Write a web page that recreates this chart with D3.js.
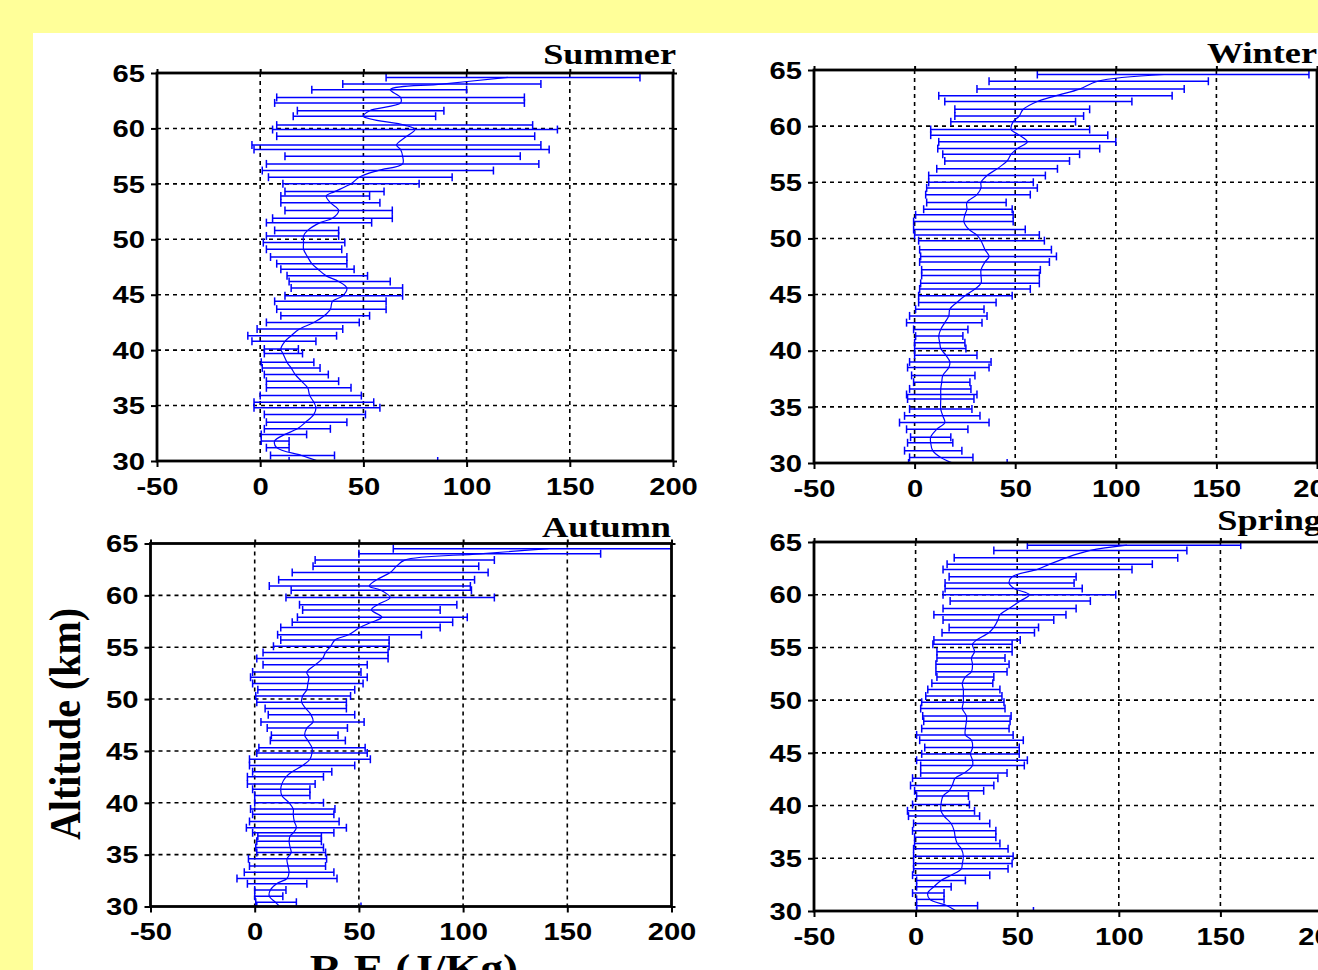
<!DOCTYPE html>
<html>
<head>
<meta charset="utf-8">
<script src="https://cdn.jsdelivr.net/npm/d3@7"></script>
<style>
  html, body { margin: 0; padding: 0; background: #ffff99; }
  svg { display: block; }
</style>
</head>
<body>
<svg id="chart" width="1318" height="970"></svg>
<script>
// rows: [altitude km, mean, mean - sd, mean + sd]  (R.E in J/Kg)
const summer = [
  [64.6, 120, 61, 184], [64.0, 88, 40, 136], [63.5, 63, 25, 100], [62.8, 68, 8, 128],
  [62.3, 68, 7, 128], [61.6, 53, 18, 89], [61.1, 50, 16, 85], [60.3, 70, 8, 132],
  [59.9, 75, 6, 144], [59.3, 71, 8, 133], [58.5, 66, -4, 136], [58.1, 68, -3, 140],
  [57.5, 69, 12, 126], [56.8, 69, 3, 135], [56.2, 57, 1, 113], [55.6, 48, 4, 93],
  [55.0, 44, 11, 77], [54.3, 36, 12, 60], [53.9, 32, 10, 53], [53.3, 34, 10, 58],
  [52.6, 38, 12, 64], [51.9, 35, 6, 64], [51.5, 29, 3, 54], [50.8, 23, 7, 38],
  [50.3, 21, 3, 38], [49.7, 21, 1.5, 41], [49.1, 21, 3, 39.5], [48.4, 23, 5, 42],
  [47.8, 25, 8, 42], [47.3, 28, 10, 45.5], [46.7, 32, 13, 52], [46.2, 38, 14, 63],
  [45.6, 42, 15, 69], [44.9, 40, 12, 69], [44.4, 35, 7, 61], [43.7, 34, 8, 61],
  [43.1, 31, 10, 53], [42.5, 26, 3, 48], [41.9, 19, -1.5, 40], [41.3, 15, -6, 37],
  [40.8, 12, -4, 27], [40.1, 10, 2, 18.5], [39.7, 11, 2, 20.5], [38.9, 13, 0.5, 26],
  [38.4, 15, 1, 29], [37.8, 17, 2, 33], [37.2, 20, 3, 38], [36.6, 23, 3, 44],
  [35.9, 24, 0, 49], [35.3, 26, -3, 55], [34.8, 27, -3, 58], [34.2, 26, 2, 51],
  [33.5, 22, 3, 42], [32.9, 18, 2, 34], [32.4, 12, 0.5, 22.5], [31.8, 7, 0.5, 14],
  [31.2, 8, 3, 14], [30.5, 20, 5, 36], [30.0, 28, 14, 86]
]

const winter = [
  [64.6, 124, 61, 196], [64.0, 91, 37, 146], [63.3, 82, 31, 134], [62.7, 70, 12, 128],
  [62.2, 61, 15, 108], [61.5, 54, 20, 87], [60.9, 52, 20, 84], [60.4, 49, 18, 80],
  [59.7, 48, 8, 87], [59.2, 52, 8, 96], [58.6, 56, 12, 100], [58.0, 51, 11.5, 92],
  [57.5, 48, 14, 82], [56.9, 46, 15, 77], [56.2, 41, 11, 71], [55.6, 36, 7, 65],
  [55.0, 33, 7, 59], [54.5, 33, 6, 61], [53.9, 31, 5.5, 57.5], [53.2, 26, 6, 45.5],
  [52.6, 26, 4.5, 48.5], [52.1, 25, 0.5, 49], [51.5, 24.5, -0.5, 49], [50.8, 27, -0.5, 55],
  [50.3, 31, 0, 62], [49.8, 33, 2, 64.5], [49.0, 35, 2.5, 68], [48.4, 37, 3, 70.5],
  [47.9, 35, 2.5, 67], [47.2, 33, 3.5, 62.5], [46.7, 33, 3.5, 62], [46.0, 33, 3, 62],
  [45.5, 30, 2.5, 57.5], [44.9, 25, 2, 48.5], [44.3, 21, 2, 40.5], [43.7, 17.5, 0.5, 34.5],
  [43.1, 17, -2.5, 36], [42.5, 15, -4, 33.5], [41.9, 13, -0.5, 26.5], [41.3, 12, 0.5, 24],
  [40.7, 12.5, 0, 25], [40.2, 13, 0, 25.5], [39.6, 15.5, 0, 31], [39.0, 17.5, -2.5, 38],
  [38.5, 17, -3.5, 37], [37.8, 14, -1.5, 30], [37.2, 13.5, -0.5, 27.5], [36.6, 13, -2.5, 28],
  [36.1, 13, -4, 31], [35.7, 13, -3.5, 29.5], [34.8, 13, -2.5, 28.5], [34.2, 14, -5, 32.5],
  [33.6, 15, -7.5, 37], [33.0, 11, -4, 26.5], [32.3, 8, -2, 18], [31.8, 8, -3.5, 19],
  [31.1, 9, -5, 23.5], [30.5, 13, -2.5, 29], [30.0, 19, -3, 46]
]

const autumn = [
  [64.5, 141, 66.5, 215], [64.0, 108, 50, 166], [63.4, 72, 29, 115], [62.8, 68, 28, 107.5],
  [62.2, 65, 18, 112], [61.5, 58.5, 11.5, 105.5], [60.9, 55, 7, 103.5], [60.5, 60.5, 17.5, 104],
  [59.8, 65, 15, 115], [59.1, 59, 21.5, 97], [58.6, 56, 23, 89], [57.9, 61, 20.5, 102],
  [57.4, 56, 18, 95], [56.9, 50.5, 12.5, 89], [56.2, 45, 11, 80], [55.7, 38.5, 12.5, 64.5],
  [55.1, 36.5, 9, 64.5], [54.5, 34, 4, 64], [53.9, 32.5, 1, 64], [53.3, 29, 4, 54],
  [52.6, 25, -1, 51], [52.1, 26, -2, 54], [51.5, 25.5, -1, 52], [50.9, 25, 1.5, 48],
  [50.3, 23, 0.5, 46], [49.7, 22.5, 1, 44], [49.1, 24.5, 5, 44], [48.5, 27, 6.5, 48],
  [47.8, 28, 3, 52.5], [47.2, 25, 6, 44.5], [46.5, 24, 8, 40], [46.0, 25.5, 7.5, 43.5],
  [45.3, 27.5, 2, 53], [44.8, 27.5, 1, 54], [44.2, 26.5, -2.5, 55.5], [43.6, 23, -2.5, 48],
  [43.0, 18, -1, 37], [42.5, 15, -3.5, 33], [41.8, 13, -3.5, 29], [41.3, 12.5, -1, 26.5],
  [40.7, 13, 0, 26.5], [40.0, 16.5, 0, 33], [39.4, 18.5, -2, 38.5], [38.9, 18.5, -1, 38],
  [38.2, 19, -2.5, 40.5], [37.6, 20, -4, 44], [37.1, 18.5, -1, 38], [36.8, 17, 1.5, 32],
  [36.3, 16.5, 1, 32], [35.7, 17, 0.5, 33], [35.2, 17.5, 1, 34], [34.6, 15.5, -3, 34.5],
  [33.9, 16, -2.5, 34], [33.3, 16.5, -5, 38], [32.7, 15.5, -8.5, 39.5], [32.2, 10.5, -3.5, 25],
  [31.6, 7.5, 0, 15], [31.0, 7, 0, 13.5], [30.4, 10, 0.5, 20], [30.0, 12, 1, 51]
]

const spring = [
  [64.7, 104, 55, 160], [64.2, 86, 38.5, 133.5], [63.5, 74, 19, 129], [62.9, 66, 15.5, 116.5],
  [62.4, 60, 13.5, 106.5], [61.7, 47.5, 16.5, 79], [61.1, 46, 14.5, 78], [60.6, 48.5, 14.5, 82],
  [60.0, 56, 13.5, 98.5], [59.4, 51.5, 17, 86], [58.7, 46, 13.5, 79], [58.1, 41.5, 9, 74],
  [57.6, 40.5, 13.5, 68], [56.9, 38.5, 16.5, 60.5], [56.4, 36, 13, 58.5], [55.7, 30, 9, 51.5],
  [55.3, 28, 8.5, 47.5], [54.6, 29, 10.5, 47.5], [54.0, 27.5, 10.5, 44], [53.4, 28, 10, 46],
  [52.7, 27.5, 10, 45], [52.2, 24.5, 10.5, 38.5], [51.6, 23, 8, 38], [51.0, 23.5, 6, 41.5],
  [50.4, 23.5, 5, 42.5], [49.8, 23.5, 3, 43.5], [49.2, 23, 2.5, 44], [48.5, 25, 3.5, 47],
  [48.0, 25, 4, 46.5], [47.3, 24.5, 3, 46], [46.7, 24.5, 0.5, 48], [46.2, 27.5, 2, 53],
  [45.5, 28, 4.5, 51], [44.9, 27, 3, 51], [44.3, 28, 0.5, 55], [43.8, 28, 2.5, 53.5],
  [43.1, 24, 2.5, 45], [42.6, 19.5, -1.5, 40.5], [41.9, 18, -2.5, 38.5], [41.4, 16.5, -0.5, 33.5],
  [40.9, 13.5, 0.5, 26], [40.1, 12.5, -1.5, 26.5], [39.5, 12.5, -4, 29], [39.0, 14, -3.5, 31.5],
  [38.3, 17.5, -1, 36.5], [37.6, 19, -1.5, 39.5], [37.0, 19.5, -0.5, 39.5], [36.4, 20.5, -0.5, 41.5],
  [35.9, 22.5, -1, 45.5], [35.2, 23.5, -1, 48], [34.5, 23, -1, 47.5], [34.0, 22.5, -1, 45.5],
  [33.4, 17.5, -1.5, 36.5], [32.9, 12.5, 0.5, 24.5], [32.3, 9, 0.5, 17.5], [31.7, 6, -1.5, 14],
  [31.1, 7, 0.5, 14], [30.5, 15.5, 0.5, 30.5], [30.0, 20, 0.5, 58]
]

const xTicks = [-50, 0, 50, 100, 150, 200]
const yTicks = [30, 35, 40, 45, 50, 55, 60, 65]
const xGrid = [0, 50, 100, 150]
const yGrid = [35, 40, 45, 50, 55, 60]
const seasons = ['Summer', 'Winter', 'Autumn', 'Spring']
const xLabel = 'R.E (J/Kg)'
const yLabel = 'Altitude (km)'

// layout of each panel in the picture
const panels = [
  { rows: summer, x: [157, 673], y: [461, 73], title: [676, 64] },
  { rows: winter, x: [814, 1317], y: [463, 70], title: [1317, 63] },
  { rows: autumn, x: [150.5, 671.5], y: [906.5, 543.5], title: [671, 537] },
  { rows: spring, x: [814, 1322], y: [911, 542], title: [1322, 530] },
]

const sans = "'Liberation Sans', Arial, sans-serif"
const serif = "'Liberation Serif', 'Times New Roman', serif"
const blue = '#0000ff'
const stretch = 1.27
const plain = (d) => String(d) // hyphen minus, as in the original

const svg = d3.select('#chart')

svg.append('rect')
  .attr('width', 1318).attr('height', 970)
  .attr('fill', '#ffff99')

svg.append('rect')
  .attr('x', 33).attr('y', 33)
  .attr('width', 1318 - 33).attr('height', 970 - 33)
  .attr('fill', '#fff')

panels.forEach((p, i) => {
  const x = d3.scaleLinear().domain([-50, 200]).range(p.x)
  const y = d3.scaleLinear().domain([30, 65]).range(p.y)
  const g = svg.append('g')

  const clipId = `clip${i}`
  g.append('clipPath').attr('id', clipId)
    .append('rect')
    .attr('x', p.x[0]).attr('y', p.y[1])
    .attr('width', p.x[1] - p.x[0]).attr('height', p.y[0] - p.y[1])

  // dashed grid
  g.append('g').selectAll('line').data(xGrid).join('line')
    .attr('x1', (d) => x(d)).attr('x2', (d) => x(d))
    .attr('y1', p.y[1]).attr('y2', p.y[0])
  g.append('g').selectAll('line').data(yGrid).join('line')
    .attr('x1', p.x[0]).attr('x2', p.x[1])
    .attr('y1', (d) => y(d)).attr('y2', (d) => y(d))
  g.selectAll('g line')
    .attr('stroke', '#000')
    .attr('stroke-width', 1.6)
    .attr('stroke-dasharray', '4,4')

  const data = g.append('g').attr('clip-path', `url(#${clipId})`)

  // error bars
  const bar = data.append('g').selectAll('g').data(p.rows).join('g')
    .attr('stroke', blue)
    .attr('stroke-width', 1.5)
  bar.append('line')
    .attr('x1', (d) => x(d[2])).attr('x2', (d) => x(d[3]))
    .attr('y1', (d) => y(d[0])).attr('y2', (d) => y(d[0]))
  bar.append('line')
    .attr('x1', (d) => x(d[2])).attr('x2', (d) => x(d[2]))
    .attr('y1', (d) => y(d[0]) - 4).attr('y2', (d) => y(d[0]) + 4)
  bar.append('line')
    .attr('x1', (d) => x(d[3])).attr('x2', (d) => x(d[3]))
    .attr('y1', (d) => y(d[0]) - 4).attr('y2', (d) => y(d[0]) + 4)

  // mean profile
  data.append('path')
    .datum(p.rows)
    .attr('fill', 'none')
    .attr('stroke', blue)
    .attr('stroke-width', 1.2)
    .attr('d', d3.line()
      .x((d) => x(d[1]))
      .y((d) => y(d[0]))
      .curve(d3.curveCatmullRom))

  // axes
  const styleAxis = (a) => {
    a.select('.domain').remove()
    a.selectAll('.tick line').attr('stroke', '#000').attr('stroke-width', 2)
  }

  const left = g.append('g')
    .attr('transform', `translate(${p.x[0]},0)`)
    .call(d3.axisLeft(y).tickValues(yTicks).tickSize(6).tickFormat(plain))
    .call(styleAxis)
  left.selectAll('text')
    .attr('x', -12 / stretch)
    .attr('dy', '0.36em')
    .attr('transform', `scale(${stretch},1)`)

  const bottom = g.append('g')
    .attr('transform', `translate(0,${p.y[0]})`)
    .call(d3.axisBottom(x).tickValues(xTicks).tickSize(6).tickFormat(plain))
    .call(styleAxis)
  bottom.selectAll('text')
    .attr('y', 34)
    .attr('dy', 0)
    .attr('transform', `scale(${stretch},1)`)

  g.append('g')
    .attr('transform', `translate(0,${p.y[1]})`)
    .call(d3.axisTop(x).tickValues(xTicks).tickSize(4).tickFormat(''))
    .call(styleAxis)
  g.append('g')
    .attr('transform', `translate(${p.x[1]},0)`)
    .call(d3.axisRight(y).tickValues(yTicks).tickSize(4).tickFormat(''))
    .call(styleAxis)

  g.selectAll('.tick text')
    .attr('fill', '#000')
    .style('font-family', sans)
    .style('font-weight', 'bold')
    .style('font-size', '23px')

  // frame
  g.append('rect')
    .attr('x', p.x[0]).attr('y', p.y[1])
    .attr('width', p.x[1] - p.x[0]).attr('height', p.y[0] - p.y[1])
    .attr('fill', 'none')
    .attr('stroke', '#000')
    .attr('stroke-width', 2.8)

  // season title
  g.append('text')
    .attr('transform', `translate(${p.title[0]},${p.title[1]}) scale(1.25,1)`)
    .attr('text-anchor', 'end')
    .style('font-family', serif)
    .style('font-weight', 'bold')
    .style('font-size', '29px')
    .text(seasons[i])
})

svg.append('text')
  .attr('transform', 'translate(80,724) rotate(-90) scale(1,1.13)')
  .attr('text-anchor', 'middle')
  .style('font-family', serif)
  .style('font-weight', 'bold')
  .style('font-size', '40px')
  .text(yLabel)

svg.append('text')
  .attr('transform', 'translate(414,982) scale(1.13,1)')
  .attr('text-anchor', 'middle')
  .style('font-family', serif)
  .style('font-weight', 'bold')
  .style('font-size', '40px')
  .text(xLabel)
</script>
</body>
</html>
